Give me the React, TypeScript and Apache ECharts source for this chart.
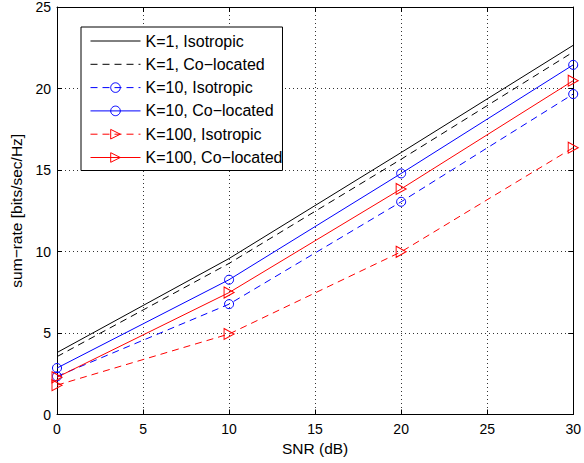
import React, { useEffect, useRef } from 'react';
import * as echarts from 'echarts';

const snr = [0, 10, 20, 30];
const k1Iso = [3.8, 9.57, 16.07, 22.65];
const k1Co = [3.55, 9.27, 15.66, 22.24];
const k10Iso = [2.34, 6.77, 13.05, 19.66];
const k10Co = [2.85, 8.27, 14.79, 21.45];
const k100Iso = [1.8, 4.94, 9.98, 16.37];
const k100Co = [2.28, 7.48, 13.84, 20.48];

const names = [
  'K=1, Isotropic',
  'K=1, Co\u2212located',
  'K=10, Isotropic',
  'K=10, Co\u2212located',
  'K=100, Isotropic',
  'K=100, Co\u2212located',
];

const FONT = 'Liberation Sans, Arial, Helvetica, sans-serif';
const TRI = 'path://M0,0 L10,5 L0,10 Z';
const CLEAR = 'rgba(0,0,0,0)';

function pairs(vals: number[]) {
  return snr.map((x, i) => [x, vals[i]]);
}

export default function App() {
  const ref = useRef<HTMLDivElement>(null);
  useEffect(() => {
    if (!ref.current) return;
    const chart = echarts.init(ref.current, null, { renderer: 'svg' });
    const dash = [7, 5];
    const mk = (
      name: string,
      vals: number[],
      color: string,
      dashed: boolean,
      symbol: string,
      size: number | number[]
    ) => ({
      name,
      type: 'line',
      data: pairs(vals),
      xAxisIndex: 0,
      yAxisIndex: 0,
      symbol,
      symbolSize: size,
      showSymbol: symbol !== 'none',
      lineStyle: { color, width: 1, type: dashed ? dash : 'solid' },
      itemStyle: { color: CLEAR, borderColor: color, borderWidth: 1 },
      emphasis: { disabled: true },
      z: 3,
    });
    const axisCommon = {
      type: 'value',
      axisLine: { show: true, onZero: false, lineStyle: { color: '#000', width: 1 } },
      axisTick: { show: true, inside: true, length: 5, lineStyle: { color: '#000' } },
    };
    chart.setOption({
      animation: false,
      backgroundColor: '#fff',
      grid: { left: 57, right: 7, top: 4, bottom: 48.5, containLabel: false },
      legend: {
        orient: 'vertical',
        left: 81,
        top: 27,
        padding: [6, 0, 5, 9],
        itemWidth: 50,
        itemHeight: 12,
        itemGap: 7.3,
        backgroundColor: '#fff',
        borderColor: '#000',
        borderWidth: 1,
        borderRadius: 0,
        selectedMode: false,
        lineStyle: { width: 1 },
        itemStyle: { borderWidth: 1 },
        textStyle: { fontFamily: FONT, fontSize: 16, color: '#000' },
        data: names.map((n, i) =>
          i < 2
            ? { name: n, itemStyle: { color: CLEAR, borderColor: CLEAR, opacity: 0 } }
            : { name: n }
        ),
      },
      xAxis: [
        {
          ...axisCommon,
          position: 'bottom',
          min: 0,
          max: 30,
          interval: 5,
          name: 'SNR (dB)',
          nameLocation: 'middle',
          nameGap: 21,
          nameTextStyle: { fontFamily: FONT, fontSize: 15.5, color: '#000' },
          axisLabel: { fontFamily: FONT, fontSize: 14, color: '#000', margin: 7 },
          splitLine: { show: true, lineStyle: { color: '#333', width: 1, type: [1, 3] } },
        },
        {
          ...axisCommon,
          position: 'top',
          min: 0,
          max: 30,
          interval: 5,
          axisLabel: { show: false },
          splitLine: { show: false },
        },
      ],
      yAxis: [
        {
          ...axisCommon,
          position: 'left',
          min: 0,
          max: 25,
          interval: 5,
          name: 'sum\u2212rate [bits/sec/Hz]',
          nameLocation: 'middle',
          nameGap: 27,
          nameTextStyle: { fontFamily: FONT, fontSize: 15.5, color: '#000' },
          axisLabel: { fontFamily: FONT, fontSize: 14, color: '#000', margin: 6 },
          splitLine: { show: true, lineStyle: { color: '#333', width: 1, type: [1, 3] } },
        },
        {
          ...axisCommon,
          position: 'right',
          min: 0,
          max: 25,
          interval: 5,
          axisLabel: { show: false },
          splitLine: { show: false },
        },
      ],
      series: [
        mk(names[0], k1Iso, '#000000', false, 'none', 0),
        mk(names[1], k1Co, '#000000', true, 'none', 0),
        mk(names[2], k10Iso, '#0000ff', true, 'circle', 9),
        mk(names[3], k10Co, '#0000ff', false, 'circle', 9),
        mk(names[4], k100Iso, '#ff0000', true, TRI, [10, 11]),
        mk(names[5], k100Co, '#ff0000', false, TRI, [10, 11]),
      ],
    });
    return () => chart.dispose();
  }, []);
  return (
    <div
      ref={ref}
      style={{ position: 'fixed', left: 0, top: 0, width: 584, height: 463, background: '#fff' }}
    />
  );
}
